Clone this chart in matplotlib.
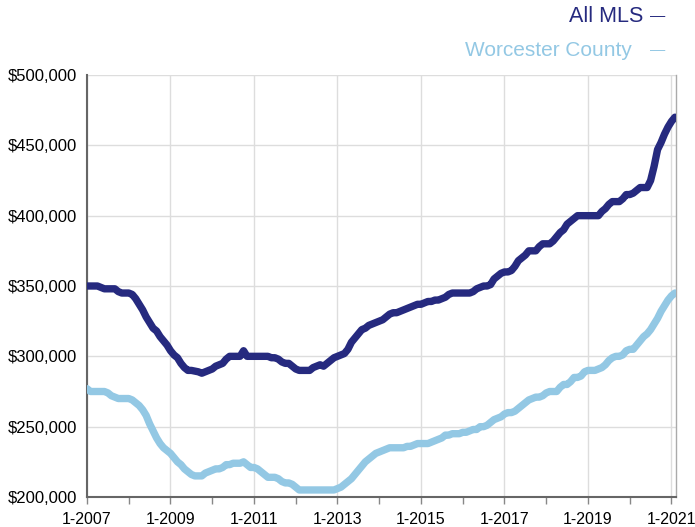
import matplotlib
matplotlib.use("Agg")
import matplotlib.pyplot as plt
import numpy as np

plt.rcParams['font.family'] = ['Liberation Sans', 'DejaVu Sans']

# monthly median price, thousands of dollars, 1-2007 .. 2-2021
all_mls = [350, 350, 350, 350, 349, 348, 348, 348, 348, 346,
           345, 345, 345, 344, 341, 337, 333, 328, 324, 320,
           318, 314, 311, 308, 304, 301, 299, 295, 292, 290,
           290, 289.5, 289, 288, 289, 290, 291, 293, 294, 295,
           298, 300, 300, 300, 300, 304, 300, 300, 300, 300,
           300, 300, 300, 299, 299, 298, 296, 295, 295, 293,
           291, 290, 290, 290, 290, 292, 293, 294, 293, 295,
           297, 299, 300, 301, 302, 305, 310, 313, 316, 319,
           320, 322, 323, 324, 325, 326, 328, 330, 331, 331,
           332, 333, 334, 335, 336, 337, 337, 338, 339, 339,
           340, 340, 341, 342, 344, 345, 345, 345, 345, 345,
           345, 346, 348, 349, 350, 350, 351, 355, 357, 359,
           360, 360, 361, 364, 368, 370, 372, 375, 375, 375,
           378, 380, 380, 380, 382, 385, 388, 390, 394, 396,
           398, 400, 400, 400, 400, 400, 400, 400, 403, 405,
           408, 410, 410, 410, 412, 415, 415, 416, 418, 420,
           420, 420, 425, 435, 447, 452, 458, 463, 467, 470]

worcester = [277, 275, 275, 275, 275, 275, 274, 272, 271, 270,
             270, 270, 270, 269, 267, 265, 262, 258, 252, 247,
             242, 238, 235, 233, 231, 228, 225, 223, 220, 218,
             216, 215, 215, 215, 217, 218, 219, 220, 220, 221,
             223, 223, 224, 224, 224, 225, 223, 221, 221, 220,
             218, 216, 214, 214, 214, 213, 211, 210, 210, 209,
             207, 205, 205, 205, 205, 205, 205, 205, 205, 205,
             205, 205, 206, 207, 209, 211, 213, 216, 219, 222,
             225, 227, 229, 231, 232, 233, 234, 235, 235, 235,
             235, 235, 236, 236, 237, 238, 238, 238, 238, 239,
             240, 241, 242, 244, 244, 245, 245, 245, 246, 246,
             247, 248, 248, 250, 250, 251, 253, 255, 256, 257,
             259, 260, 260, 261, 263, 265, 267, 269, 270, 271,
             271, 272, 274, 275, 275, 275, 278, 280, 280, 282,
             285, 285, 286, 289, 290, 290, 290, 291, 292, 294,
             297, 299, 300, 300, 301, 304, 305, 305, 308, 311,
             314, 316, 319, 323, 327, 332, 336, 340, 343, 345]

years = list(range(2007, 2022, 2))
xlabels = ['1-%d' % y for y in years]
ylabels_vals = [200000, 250000, 300000, 350000, 400000, 450000, 500000]

dark = '#262a7f'
light = '#93c8e4'

fig = plt.figure(figsize=(6.95, 5.27), dpi=100)
ax = fig.add_axes([87/695, 30/527, 589/695, 422/527])

m = np.arange(len(all_mls))
ax.plot(m, np.array(worcester) * 1000, color=light, lw=5.3, solid_capstyle='round', solid_joinstyle='round', zorder=3)
ax.plot(m, np.array(all_mls) * 1000, color=dark, lw=5.3, solid_capstyle='round', solid_joinstyle='round', zorder=4)

ax.set_xlim(0, 169.3)
ax.set_ylim(200000, 500000)
ax.set_xticks([(y - 2007) * 12 for y in years])
ax.set_xticklabels(xlabels, fontsize=11.5)
ax.set_xticks([(y - 2007) * 12 for y in range(2008, 2021, 2)], minor=True)
ax.set_yticks(ylabels_vals)
ax.set_yticklabels(['${:,}'.format(v) for v in ylabels_vals], fontsize=12)

ax.tick_params(axis='y', length=0, pad=7)
ax.tick_params(axis='x', which='both', direction='out', length=5, width=1, color='#888888', pad=6)
ax.grid(True, color='#dddddd', lw=1)
ax.set_axisbelow(True)
for s in ['left', 'bottom']:
    ax.spines[s].set_color('#666666')
    ax.spines[s].set_linewidth(1.5)
ax.spines['right'].set_color('#aaaaaa')
ax.spines['right'].set_linewidth(1)
ax.spines['top'].set_visible(False)

fig.text(643/695, 1 - 16/527, 'All MLS', color=dark, fontsize=15.5, ha='right', va='center')
fig.text(650/695, 1 - 16/527, '\u2014', color=dark, fontsize=11, ha='left', va='center')
fig.text(632/695, 1 - 50/527, 'Worcester County', color=light, fontsize=15, ha='right', va='center')
fig.text(650/695, 1 - 50/527, '\u2014', color=light, fontsize=11, ha='left', va='center')

fig.savefig('out.png', dpi=100)
